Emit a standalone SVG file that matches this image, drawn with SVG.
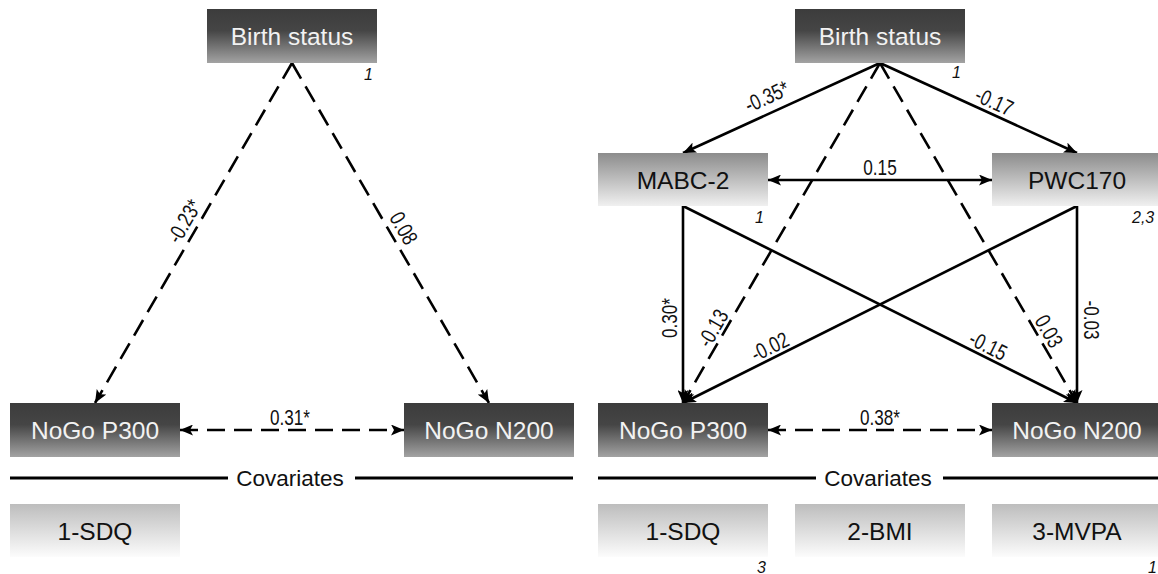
<svg xmlns="http://www.w3.org/2000/svg" width="1158" height="574" viewBox="0 0 1158 574">
<style>
.box-t{font-family:"Liberation Sans",Arial,sans-serif;font-size:24.5px;text-anchor:middle}
.w{fill:#f2f2f2}
.k{fill:#111}
.lbl{font-family:"Liberation Sans Narrow","Liberation Sans",Arial,sans-serif;font-size:22px;text-anchor:middle;fill:#111}
.sm{font-family:"Liberation Sans",Arial,sans-serif;font-size:16px;font-style:italic;fill:#111}
.cov{font-family:"Liberation Sans",Arial,sans-serif;font-size:22.5px;text-anchor:middle;fill:#111}
.ln{stroke:#000;stroke-width:2.6;fill:none}
.d{stroke-dasharray:18 9}
</style>
<defs>
<linearGradient id="gDark" x1="0" y1="0" x2="0" y2="1">
<stop offset="0" stop-color="#3c3c3c"/>
<stop offset="0.4" stop-color="#454545"/>
<stop offset="1" stop-color="#a3a3a3"/>
</linearGradient>
<linearGradient id="gMid" x1="0" y1="0" x2="0" y2="1">
<stop offset="0" stop-color="#8c8c8c"/>
<stop offset="1" stop-color="#f0f0f0"/>
</linearGradient>
<linearGradient id="gLight" x1="0" y1="0" x2="0" y2="1">
<stop offset="0" stop-color="#bdbdbd"/>
<stop offset="1" stop-color="#fcfcfc"/>
</linearGradient>
<marker id="ar" markerUnits="userSpaceOnUse" markerWidth="14" markerHeight="11" refX="13" refY="5.5" orient="auto-start-reverse">
<path d="M0,0 L13,5.5 L0,11 L3,5.5 z" fill="#000"/>
</marker>
</defs>

<!-- LEFT PANEL -->
<g id="connectors-left">
<line class="ln d" x1="292" y1="63" x2="95" y2="403" marker-end="url(#ar)"/>
<line class="ln d" x1="292" y1="63" x2="489" y2="403" marker-end="url(#ar)"/>
<line class="ln d" x1="180" y1="430" x2="404" y2="430" marker-start="url(#ar)" marker-end="url(#ar)"/>
<text class="lbl" transform="translate(196,228) rotate(-60)" y="-6" textLength="46" lengthAdjust="spacingAndGlyphs">-0.23*</text>
<text class="lbl" transform="translate(392,235) rotate(60)" y="-6" textLength="33.5" lengthAdjust="spacingAndGlyphs">0.08</text>
<text class="lbl" x="290" y="425" textLength="40" lengthAdjust="spacingAndGlyphs">0.31*</text>
</g>
<g id="L-birth">
<rect x="207" y="9" width="170" height="54" fill="url(#gDark)"/>
<text class="box-t w" x="292" y="45">Birth status</text>
<text class="sm" x="364" y="80">1</text>
</g>
<g id="L-p300">
<rect x="10" y="403" width="170" height="54" fill="url(#gDark)"/>
<text class="box-t w" x="95" y="439">NoGo P300</text>
</g>
<g id="L-n200">
<rect x="404" y="403" width="170" height="54" fill="url(#gDark)"/>
<text class="box-t w" x="489" y="439">NoGo N200</text>
</g>
<g id="L-covariates">
<line x1="10" y1="478" x2="228" y2="478" stroke="#000" stroke-width="3"/>
<line x1="355" y1="478" x2="573" y2="478" stroke="#000" stroke-width="3"/>
<text class="cov" x="290" y="486">Covariates</text>
</g>
<g id="L-sdq">
<rect x="10" y="504" width="170" height="53" fill="url(#gLight)"/>
<text class="box-t k" x="95" y="540">1-SDQ</text>
</g>

<!-- RIGHT PANEL -->
<g id="connectors-right">
<line class="ln" x1="880" y1="63" x2="683" y2="153" marker-end="url(#ar)"/>
<line class="ln" x1="880" y1="63" x2="1077" y2="153" marker-end="url(#ar)"/>
<line class="ln d" x1="880" y1="63" x2="683" y2="403" marker-end="url(#ar)"/>
<line class="ln d" x1="880" y1="63" x2="1077" y2="403" marker-end="url(#ar)"/>
<line class="ln" x1="768" y1="180" x2="992" y2="180" marker-start="url(#ar)" marker-end="url(#ar)"/>
<line class="ln" x1="683" y1="206" x2="683" y2="403" marker-end="url(#ar)"/>
<line class="ln" x1="683" y1="206" x2="1077" y2="403" marker-end="url(#ar)"/>
<line class="ln" x1="1077" y1="206" x2="683" y2="403" marker-end="url(#ar)"/>
<line class="ln" x1="1077" y1="206" x2="1077" y2="403" marker-end="url(#ar)"/>
<line class="ln d" x1="768" y1="430" x2="992" y2="430" marker-start="url(#ar)" marker-end="url(#ar)"/>
<text class="lbl" transform="translate(772,108) rotate(-24.57)" y="-5" textLength="46" lengthAdjust="spacingAndGlyphs">-0.35*</text>
<text class="lbl" transform="translate(989,113) rotate(24.57)" y="-5" textLength="39" lengthAdjust="spacingAndGlyphs">-0.17</text>
<text class="lbl" x="880" y="175" textLength="33.5" lengthAdjust="spacingAndGlyphs">0.15</text>
<text class="lbl" transform="translate(683,318) rotate(-90)" y="-6" textLength="40" lengthAdjust="spacingAndGlyphs">0.30*</text>
<text class="lbl" transform="translate(723,334) rotate(-60)" y="-4" textLength="39" lengthAdjust="spacingAndGlyphs">-0.13</text>
<text class="lbl" transform="translate(775,357) rotate(-26.57)" y="-4" textLength="39" lengthAdjust="spacingAndGlyphs">-0.02</text>
<text class="lbl" transform="translate(983,356) rotate(26.57)" y="-4" textLength="39" lengthAdjust="spacingAndGlyphs">-0.15</text>
<text class="lbl" transform="translate(1039,337) rotate(60)" y="-4" textLength="33.5" lengthAdjust="spacingAndGlyphs">0.03</text>
<text class="lbl" transform="translate(1077,320) rotate(90)" y="-7" textLength="39" lengthAdjust="spacingAndGlyphs">-0.03</text>
<text class="lbl" x="880" y="425" textLength="40" lengthAdjust="spacingAndGlyphs">0.38*</text>
</g>
<g id="R-birth">
<rect x="795" y="9" width="170" height="54" fill="url(#gDark)"/>
<text class="box-t w" x="880" y="45">Birth status</text>
<text class="sm" x="952" y="78">1</text>
</g>
<g id="R-mabc">
<rect x="598" y="153" width="170" height="53" fill="url(#gMid)"/>
<text class="box-t k" x="683" y="189">MABC-2</text>
<text class="sm" x="755" y="223">1</text>
</g>
<g id="R-pwc">
<rect x="992" y="153" width="170" height="53" fill="url(#gMid)"/>
<text class="box-t k" x="1077" y="189">PWC170</text>
<text class="sm" x="1132" y="223">2,3</text>
</g>
<g id="R-p300">
<rect x="598" y="403" width="170" height="54" fill="url(#gDark)"/>
<text class="box-t w" x="683" y="439">NoGo P300</text>
</g>
<g id="R-n200">
<rect x="992" y="403" width="170" height="54" fill="url(#gDark)"/>
<text class="box-t w" x="1077" y="439">NoGo N200</text>
</g>
<g id="R-covariates">
<line x1="598" y1="478" x2="816" y2="478" stroke="#000" stroke-width="3"/>
<line x1="943" y1="478" x2="1158" y2="478" stroke="#000" stroke-width="3"/>
<text class="cov" x="878" y="486">Covariates</text>
</g>
<g id="R-sdq">
<rect x="598" y="504" width="170" height="53" fill="url(#gLight)"/>
<text class="box-t k" x="683" y="540">1-SDQ</text>
<text class="sm" x="757" y="573">3</text>
</g>
<g id="R-bmi">
<rect x="795" y="504" width="170" height="53" fill="url(#gLight)"/>
<text class="box-t k" x="880" y="540">2-BMI</text>
</g>
<g id="R-mvpa">
<rect x="992" y="504" width="170" height="53" fill="url(#gLight)"/>
<text class="box-t k" x="1077" y="540">3-MVPA</text>
<text class="sm" x="1148" y="573">1</text>
</g>
</svg>
